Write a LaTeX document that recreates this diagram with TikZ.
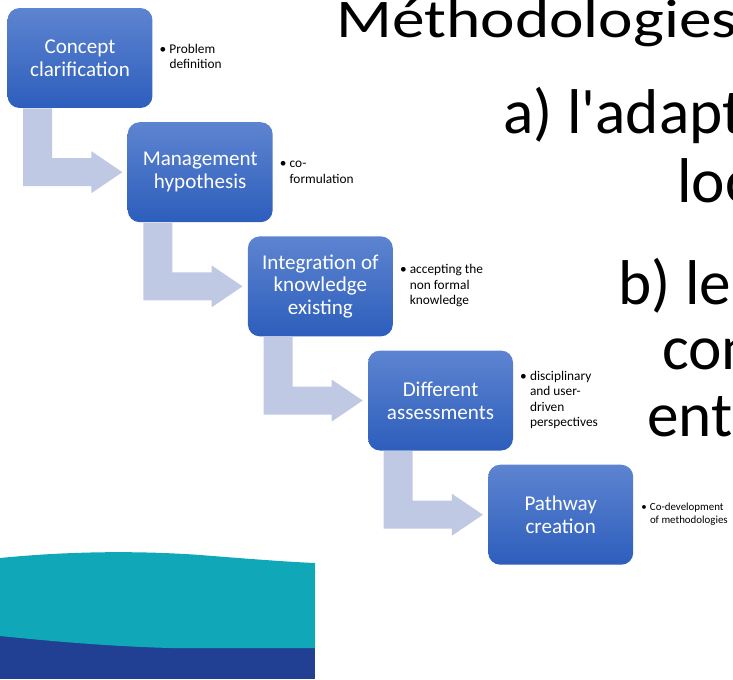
\documentclass[tikz,border=0pt]{standalone}
\usepackage{fontspec}
\setmainfont{Carlito}
\usepackage{graphicx}
\usepackage{xcolor}
\definecolor{step-top}{RGB}{93,132,208}
\definecolor{step-bottom}{RGB}{45,94,188}
\definecolor{flow-light}{RGB}{192,201,228}
\definecolor{wave-teal}{RGB}{16,168,184}
\definecolor{wave-navy}{RGB}{33,64,148}
\definecolor{text-primary}{RGB}{0,0,0}
\usepackage{tikz}
\usetikzlibrary{positioning,calc}

\newcommand{\bulletnote}[1]{\textbullet\hspace{1.8pt}\begin{tabular}[t]{@{}l@{}}#1\end{tabular}}
\newcommand{\bentarrow}[2]{%
  \fill[flow] ([xshift=0.32cm]#1.south west) -- ([xshift=0.9cm]#1.south west)
    |- ([xshift=-0.72cm,yshift=0.28cm]#2.west) -- ++(0,0.14cm)
    -- ([xshift=-0.1cm]#2.west) -- ([xshift=-0.72cm,yshift=-0.42cm]#2.west)
    -- ++(0,0.14cm) -| ([xshift=0.32cm]#1.south west) -- cycle;}

\begin{document}
\begin{tikzpicture}[
  x=0.02cm, y=-0.02cm,
  stepbox/.style={
    rectangle,
    rounded corners=0.24cm,
    top color=step-top,
    bottom color=step-bottom,
    minimum width=2.9cm,
    minimum height=2cm,
    inner sep=0pt,
    align=center,
    font=\fontsize{12}{13}\selectfont,
    text=white
  },
  note/.style={
    inner sep=0pt,
    font=\fontsize{7.6}{8.8}\selectfont,
    text=text-primary
  },
  heading/.style={
    anchor=base west,
    inner sep=0pt,
    font=\fontsize{36}{40}\selectfont,
    text=text-primary
  },
  flow/.style={fill=flow-light}
]

\useasboundingbox (0,0) rectangle (733,679);
\clip (0,0) rectangle (733,679);

% Wave in the bottom left corner
\fill[wave-navy] (0,620) rectangle (315,679);
\fill[wave-teal] (0,558) .. controls (60,552) and (130,550) .. (200,555)
  .. controls (250,559) and (290,562) .. (315,563) -- (315,648) -- (170,648)
  .. controls (100,646) and (40,640) .. (0,636) -- cycle;

% Steps from top left to bottom right
\node[stepbox] (concept) at (80,58) {Concept\\clarification};
\node[stepbox, below right=0.27cm and -0.51cm of concept] (hypothesis) {Management\\hypothesis};
\node[stepbox, below right=0.27cm and -0.51cm of hypothesis] (integration) {Integration of\\knowledge\\existing};
\node[stepbox, below right=0.27cm and -0.51cm of integration] (assessments) {Different\\assessments};
\node[stepbox, below right=0.27cm and -0.51cm of assessments] (pathway) {Pathway\\creation};

% Bent arrows between steps
\bentarrow{concept}{hypothesis}
\bentarrow{hypothesis}{integration}
\bentarrow{integration}{assessments}
\bentarrow{assessments}{pathway}

% Notes right of the steps
\node[note, right=0.13cm of concept] (n1) {\bulletnote{Problem\\definition}};
\node[note, right=0.13cm of hypothesis] (n2) {\bulletnote{co-\\formulation}};
\node[note, right=0.13cm of integration] (n3) {\bulletnote{accepting the\\non formal\\knowledge}};
\node[note, right=0.13cm of assessments] (n4) {\bulletnote{disciplinary\\and user-\\driven\\perspectives}};
\node[note, right=0.15cm of pathway, font=\fontsize{6.2}{7.2}\selectfont] (n5) {\bulletnote{Co-development\\of methodologies}};

% Slide text on the right
\node[heading, font=\fontsize{31}{40}\selectfont] (title) at (336,38) {\scalebox{1.2}[1]{Méthodologies}};
\node[heading] (adapt) at (503,133) {a) l\textquotesingle adapt};
\node[heading] (local) at (677,202) {loc};
\node[heading] (les) at (618,304) {b) le};
\node[heading] (con) at (662,369) {con};
\node[heading] (ent) at (647,436) {ent};

\end{tikzpicture}
\end{document}
